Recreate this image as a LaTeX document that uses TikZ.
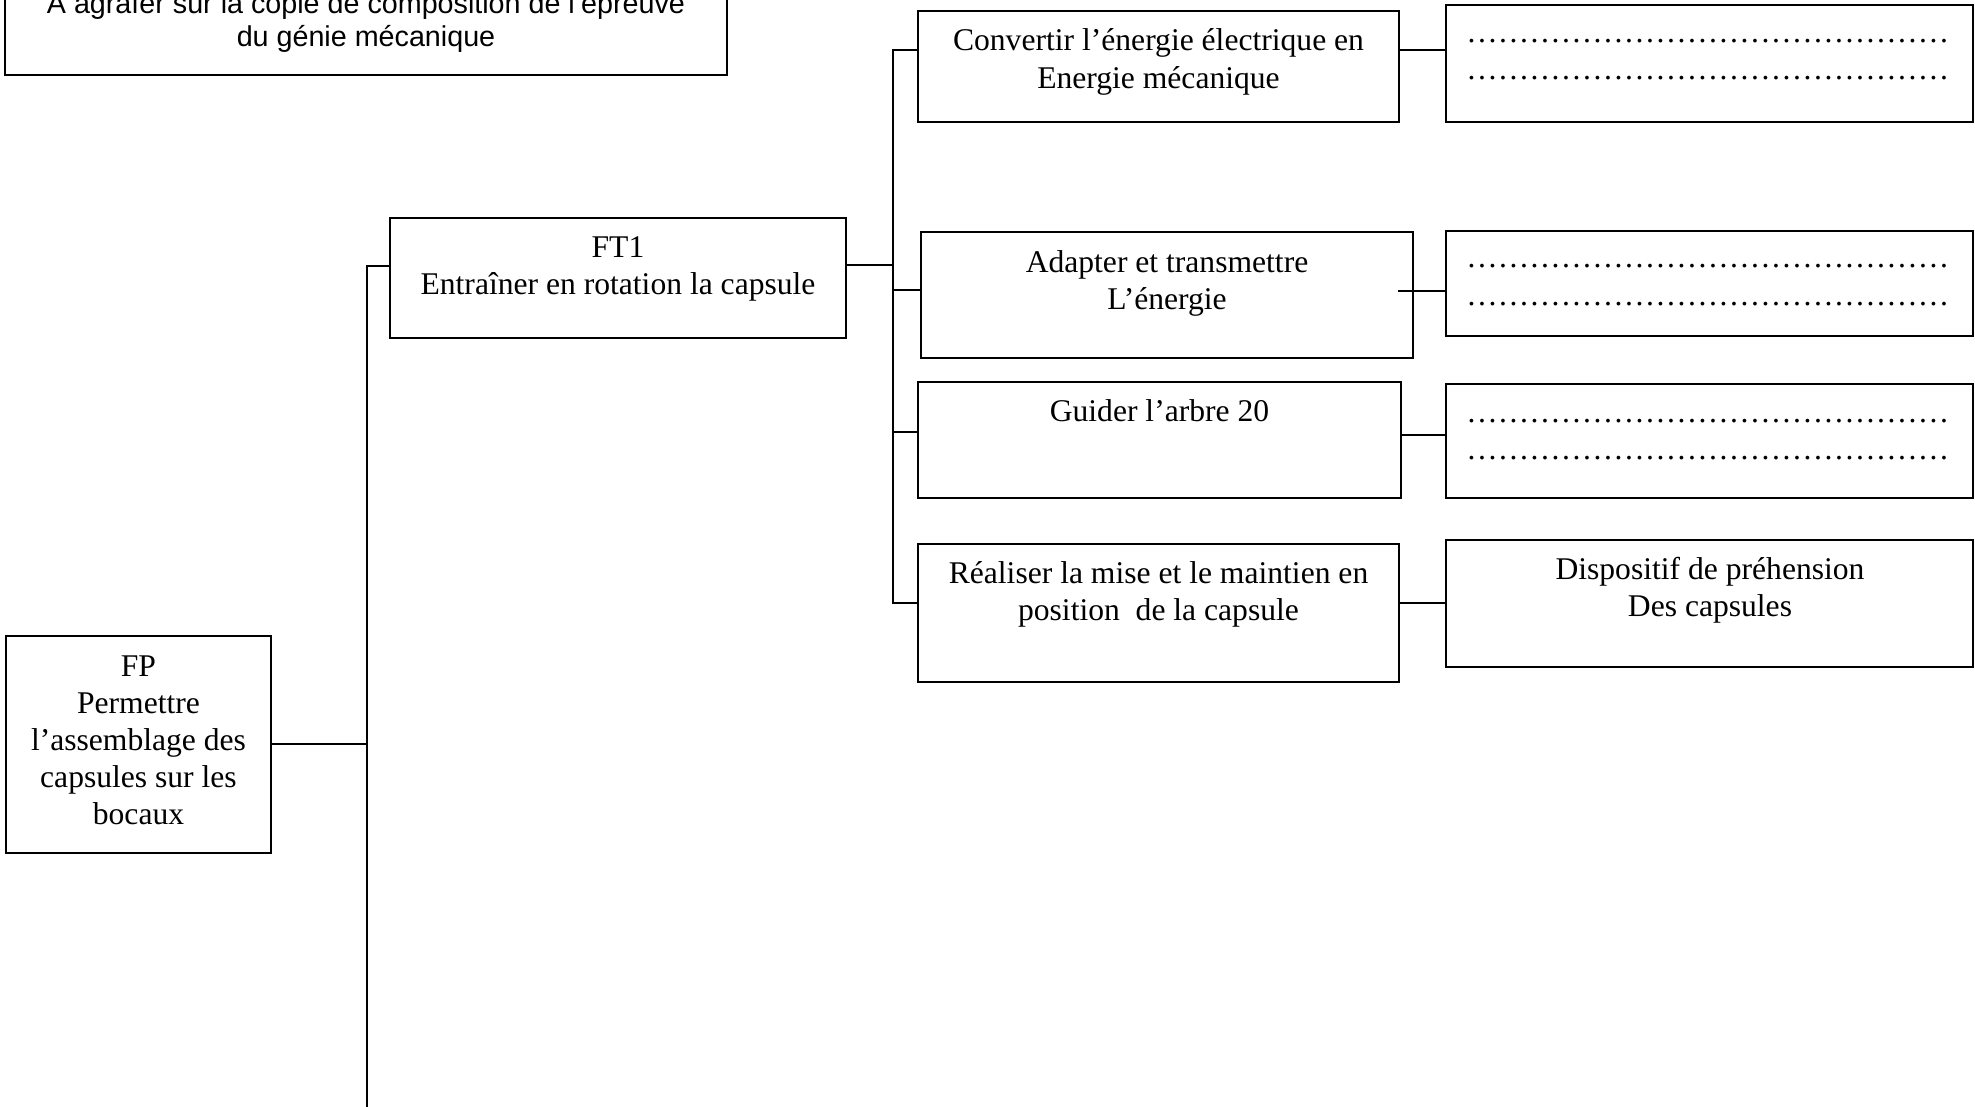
\documentclass[tikz,border=0pt]{standalone}
\usepackage{fontspec}
\setmainfont{Liberation Serif}
\newfontfamily\arialfont{Liberation Sans}
\usetikzlibrary{fit,calc}
\newcommand\lns[1]{\begin{tabular}[t]{@{}c@{}}#1\end{tabular}}
\newcommand\dotrow{\hbox{\leaders\hbox to 5.25pt{\hss.\hss}\hskip 241.5pt}}
\begin{document}
\begin{tikzpicture}[x=0.5pt,y=-0.5pt,
  box/.style={draw, line width=1pt, inner sep=0pt, outer sep=0pt},
  txt/.style={inner sep=0pt, anchor=base, font=\fontsize{15.8}{18.7}\selectfont},
  atxt/.style={inner sep=0pt, anchor=base, font=\arialfont\fontsize{14.35}{16.5}\selectfont},
  dots/.style={inner sep=0pt, anchor=base west, font=\fontsize{15.8}{18.7}\selectfont},
  wire/.style={line width=1pt}]
\useasboundingbox (0,0) rectangle (1975,1107);
\fill[white] (0,0) rectangle (1975,1107);

% boxes
\node[box, fit={(5,-60) (727,75)}] (top) {};
\node[box, fit={(390,218) (846,338)}] (ft1) {};
\node[box, fit={(6,636) (271,853)}] (fp) {};
\node[box, fit={(918,11) (1399,122)}] (c1) {};
\node[box, fit={(1446,5) (1973,122)}] (d1) {};
\node[box, fit={(921,232) (1413,358)}] (c2) {};
\node[box, fit={(1446,231) (1973,336)}] (d2) {};
\node[box, fit={(918,382) (1401,498)}] (c3) {};
\node[box, fit={(1446,384) (1973,498)}] (d3) {};
\node[box, fit={(918,544) (1399,682)}] (c4) {};
\node[box, fit={(1446,540) (1973,667)}] (d4) {};

% texts
\node[atxt] (toptxt) at (366,14) {\lns{A agrafer sur la copie de composition de l’épreuve\\du génie mécanique}};
\node[txt] (ft1txt) at (618,257) {\lns{FT1\\Entraîner en rotation la capsule}};
\node[txt, font=\fontsize{15.8}{18.5}\selectfont] (fptxt) at (138.5,676) {\lns{FP\\Permettre\\l’assemblage des\\capsules sur les\\bocaux}};
\node[txt] (c1txt) at (1158.5,51) {\lns{Convertir l’énergie électrique en\\Energie mécanique}};
\node[txt] (c2txt) at (1167,272) {\lns{Adapter et transmettre\\L’énergie}};
\node[txt] (c3txt) at (1159.5,421) {Guider l’arbre 20};
\node[txt] (c4txt) at (1158.5,583) {\lns{Réaliser la mise et le maintien en\\position\ \ de la capsule}};
\node[txt] (d4txt) at (1710,579) {\lns{Dispositif de préhension\\Des capsules}};
\node[dots] (d1a) at (1466,43) {\dotrow};
\node[dots] (d1b) at (1466,80) {\dotrow};
\node[dots] (d2a) at (1466,268) {\dotrow};
\node[dots] (d2b) at (1466,306) {\dotrow};
\node[dots] (d3a) at (1466,422) {\dotrow};
\node[dots] (d3b) at (1466,459) {\dotrow};

% connectors
\coordinate (tA) at (367,266);
\coordinate (tEnd) at (367,1107);
\coordinate (jfp) at (367,744);
\coordinate (tB) at (893,50);
\coordinate (tC) at (893,603);
\coordinate (jft) at (893,265);
\coordinate (j2) at (893,290);
\coordinate (j3) at (893,432);
\coordinate (k2) at (1398,291);
\coordinate (k3) at (1401,435);

\draw[wire] (tA -| ft1.west) -- (tA) -- (tEnd);
\draw[wire] (fp.east |- jfp) -- (jfp);
\draw[wire] (tB -| c1.west) -- (tB) -- (tC) -- (tC -| c4.west);
\draw[wire] (jft -| ft1.east) -- (jft);
\draw[wire] (j2) -- (j2 -| c2.west);
\draw[wire] (j3) -- (j3 -| c3.west);
\draw[wire] (c1.east |- tB) -- (d1.west |- tB);
\draw[wire] (k2) -- (k2 -| d2.west);
\draw[wire] (c3.east |- k3) -- (d3.west |- k3);
\draw[wire] (c4.east |- tC) -- (d4.west |- tC);
\end{tikzpicture}
\end{document}
